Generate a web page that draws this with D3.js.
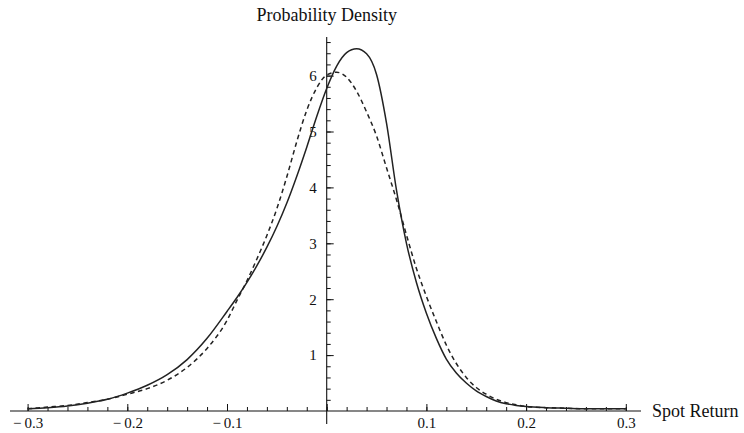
<!DOCTYPE html>
<html>
<head>
<meta charset="utf-8">
<script src="https://cdn.jsdelivr.net/npm/d3@7"></script>
<style>
  body { margin: 0; background: #fff; }
  svg text { font-family: "Liberation Serif", "DejaVu Serif", serif; fill: #111; }
</style>
</head>
<body>
<svg id="chart" width="744" height="433"></svg>
<script>
// spot return grid (x) and the two densities
var returns = [-0.30, -0.28, -0.26, -0.24, -0.22, -0.20, -0.18, -0.16, -0.14, -0.12,
               -0.10, -0.09, -0.08, -0.07, -0.06, -0.05, -0.04, -0.03, -0.02, -0.01,
               0.00, 0.01, 0.02, 0.03, 0.04, 0.05, 0.06, 0.07, 0.08, 0.09,
               0.10, 0.11, 0.12, 0.13, 0.14, 0.15, 0.16, 0.17, 0.18, 0.19,
               0.20, 0.22, 0.24, 0.26, 0.28, 0.30];

// solid curve
var densitySolid = [0.04, 0.06, 0.09, 0.14, 0.21, 0.32, 0.46, 0.65, 0.92, 1.30,
                    1.78, 2.03, 2.30, 2.60, 2.93, 3.30, 3.72, 4.20, 4.72, 5.27,
                    5.77, 6.17, 6.41, 6.48, 6.39, 6.02, 5.15, 3.95, 3.00, 2.30,
                    1.75, 1.30, 0.93, 0.68, 0.50, 0.36, 0.26, 0.18, 0.13, 0.10,
                    0.08, 0.06, 0.05, 0.04, 0.04, 0.04];

// dashed curve
var densityDashed = [0.04, 0.07, 0.10, 0.15, 0.21, 0.30, 0.40, 0.55, 0.78, 1.12,
                     1.62, 1.98, 2.33, 2.72, 3.14, 3.62, 4.19, 4.82, 5.38, 5.78,
                     6.01, 6.06, 5.97, 5.72, 5.35, 4.92, 4.35, 3.78, 3.15, 2.55,
                     2.05, 1.60, 1.18, 0.85, 0.60, 0.42, 0.30, 0.21, 0.15, 0.11,
                     0.08, 0.06, 0.05, 0.04, 0.04, 0.04];

var xLabelTicks = [-0.3, -0.2, -0.1, 0.1, 0.2, 0.3];
var yLabelTicks = [1, 2, 3, 4, 5, 6];

var svg = d3.select('#chart');

// scales (0 return sits on the y axis, density 0 on the x axis)
var x = d3.scaleLinear().domain([-0.3, 0.3]).range([27.6, 625.8]);
var y = d3.scaleLinear().domain([0, 6]).range([411, 75.6]);

// minor/major tick positions
var xMinor = d3.range(-30, 31, 2).map(function(d) { return d / 100; });
var xMajor = d3.range(-3, 4, 1).map(function(d) { return d / 10; });
var yMinor = d3.range(1, 34, 1).map(function(d) { return d / 5; });
var yMajor = d3.range(1, 7, 1);

// mathematica-ish labels: long minus with a little gap
var fmtX = function(d) {
  return d < 0 ? '\u2212\u2009' + Math.abs(d).toFixed(1) : d.toFixed(1);
};

var axes = svg.append('g').attr('stroke', '#111').attr('stroke-width', 1.1);

// axis lines, a bit past the data range like the original
axes.append('line')
    .attr('x1', 10).attr('x2', 641)
    .attr('y1', y(0)).attr('y2', y(0));
axes.append('line')
    .attr('x1', x(0)).attr('x2', x(0))
    .attr('y1', 37).attr('y2', 424);

// x ticks go up from the axis
svg.append('g')
    .attr('transform', 'translate(0,' + y(0) + ')')
    .call(d3.axisTop(x).tickValues(xMinor).tickSize(4).tickFormat(''))
    .call(function(g) { g.select('.domain').remove(); });
svg.append('g')
    .attr('transform', 'translate(0,' + y(0) + ')')
    .call(d3.axisTop(x).tickValues(xMajor).tickSize(7).tickFormat(''))
    .call(function(g) { g.select('.domain').remove(); });

// y ticks go right from the axis
svg.append('g')
    .attr('transform', 'translate(' + x(0) + ',0)')
    .call(d3.axisRight(y).tickValues(yMinor).tickSize(4).tickFormat(''))
    .call(function(g) { g.select('.domain').remove(); });
svg.append('g')
    .attr('transform', 'translate(' + x(0) + ',0)')
    .call(d3.axisRight(y).tickValues(yMajor).tickSize(7).tickFormat(''))
    .call(function(g) { g.select('.domain').remove(); });

svg.selectAll('.tick line').attr('stroke', '#111');

// tick labels
svg.append('g')
    .attr('transform', 'translate(0,' + (y(0) + 3) + ')')
    .call(d3.axisBottom(x).tickValues(xLabelTicks).tickSize(0).tickFormat(fmtX))
    .call(function(g) {
      g.select('.domain').remove();
      g.selectAll('text').attr('font-size', 15).attr('font-family', 'Liberation Serif').attr('fill', '#111');
    });
svg.append('g')
    .attr('transform', 'translate(' + (x(0) - 7) + ',0)')
    .call(d3.axisLeft(y).tickValues(yLabelTicks).tickSize(0).tickFormat(d3.format('d')))
    .call(function(g) {
      g.select('.domain').remove();
      g.selectAll('text').attr('font-size', 15).attr('font-family', 'Liberation Serif').attr('fill', '#111');
    });

// axis titles
svg.append('text')
    .attr('x', x(0)).attr('y', 21)
    .attr('text-anchor', 'middle')
    .attr('font-size', 18)
    .text('Probability Density');
svg.append('text')
    .attr('x', 652).attr('y', 417)
    .attr('font-size', 18)
    .text('Spot Return');

// the curves
var densityLine = d3.line()
    .curve(d3.curveMonotoneX)
    .x(function(d, i) { return x(returns[i]); })
    .y(function(d) { return y(d); });

svg.append('path')
    .datum(densityDashed)
    .attr('fill', 'none')
    .attr('stroke', '#222')
    .attr('stroke-width', 1.5)
    .attr('stroke-dasharray', '4.5,3.5')
    .attr('d', densityLine);

svg.append('path')
    .datum(densitySolid)
    .attr('fill', 'none')
    .attr('stroke', '#222')
    .attr('stroke-width', 1.5)
    .attr('d', densityLine);
</script>
</body>
</html>
